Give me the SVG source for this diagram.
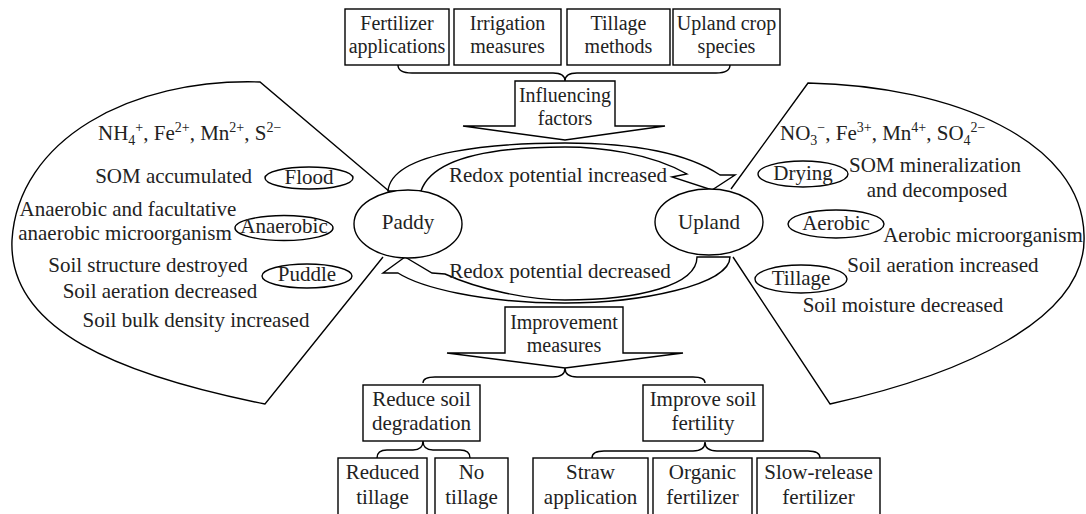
<svg xmlns="http://www.w3.org/2000/svg" width="1086" height="514" viewBox="0 0 1086 514" font-family="'Liberation Serif', 'DejaVu Serif', 'Times New Roman', serif">
<style>
text{font-family:'Liberation Serif','DejaVu Serif','Times New Roman',serif;font-size:21px;fill:#222;}
.m{text-anchor:middle;}
.b{font-size:20px;}
.s{fill:none;stroke:#000;stroke-width:1.4;stroke-linejoin:miter;}
.w{fill:#fff;stroke:#000;stroke-width:1.4;}
.sm{font-size:14px;}
</style>
<rect width="1086" height="514" fill="#fff"/>

<g id="paddy-region">
<path class="s" d="M 390 192 L 260 82 C 130 78, 18 140, 12 240 C 8 330, 120 375, 265 404 L 383 257"/>
<text x="98" y="140">NH<tspan class="sm" dy="5">4</tspan><tspan class="sm" dy="-13">+</tspan><tspan dy="8">, Fe</tspan><tspan class="sm" dy="-8">2+</tspan><tspan dy="8">, Mn</tspan><tspan class="sm" dy="-8">2+</tspan><tspan dy="8">, S</tspan><tspan class="sm" dy="-8">2−</tspan></text>
<text x="252" y="183" text-anchor="end">SOM accumulated</text>
<text x="128" y="216" class="m">Anaerobic and facultative</text>
<text x="125" y="240" class="m">anaerobic microorganism</text>
<text x="148" y="272" class="m">Soil structure destroyed</text>
<text x="160" y="298" class="m">Soil aeration decreased</text>
<text x="196" y="327" class="m">Soil bulk density increased</text>
</g>
<g id="flood"><ellipse class="w" cx="309" cy="178" rx="44" ry="11"/><text x="309" y="184" class="m">Flood</text></g>
<g id="anaerobic"><ellipse class="w" cx="284" cy="228" rx="49" ry="12.5"/><text x="284" y="233" class="m">Anaerobic</text></g>
<g id="puddle"><ellipse class="w" cx="307" cy="276" rx="45" ry="12"/><text x="307" y="281" class="m">Puddle</text></g>

<g id="upland-region">
<path class="s" d="M 731 189 L 808 83 C 955 86, 1082 142, 1084 235 C 1088 320, 960 375, 830 404 L 733 257"/>
<text x="780" y="140">NO<tspan class="sm" dy="5">3</tspan><tspan class="sm" dy="-13">−</tspan><tspan dy="8">, Fe</tspan><tspan class="sm" dy="-8">3+</tspan><tspan dy="8">, Mn</tspan><tspan class="sm" dy="-8">4+</tspan><tspan dy="8">, SO</tspan><tspan class="sm" dy="5">4</tspan><tspan class="sm" dy="-13">2−</tspan></text>
<text x="935" y="172" class="m">SOM mineralization</text>
<text x="937" y="197" class="m">and decomposed</text>
<text x="983" y="242" class="m">Aerobic microorganism</text>
<text x="943" y="272" class="m">Soil aeration increased</text>
<text x="903" y="312" class="m">Soil moisture decreased</text>
</g>
<g id="drying"><ellipse class="w" cx="803" cy="174" rx="45" ry="13"/><text x="803" y="180" class="m">Drying</text></g>
<g id="aerobic"><ellipse class="w" cx="836" cy="224" rx="48" ry="14"/><text x="836" y="230" class="m">Aerobic</text></g>
<g id="tillage"><ellipse class="w" cx="801" cy="279" rx="46" ry="14"/><text x="801" y="285" class="m">Tillage</text></g>

<g id="top-factors">
<rect class="w" x="345" y="9" width="104" height="56"/>
<text x="397" y="30" class="m b">Fertilizer</text><text x="397" y="53" class="m b">applications</text>
<rect class="w" x="454" y="9" width="107" height="56"/>
<text x="507.5" y="30" class="m b">Irrigation</text><text x="507.5" y="53" class="m b">measures</text>
<rect class="w" x="567" y="9" width="103" height="56"/>
<text x="618.5" y="30" class="m b">Tillage</text><text x="618.5" y="53" class="m b">methods</text>
<rect class="w" x="673" y="9" width="107" height="56"/>
<text x="726.5" y="30" class="m b">Upland crop</text><text x="726.5" y="53" class="m b">species</text>
</g>

<g id="influencing-factors">
<path class="w" d="M 515 81 L 615 81 L 615 126 L 665 126 L 565 140 L 463 126 L 515 126 Z"/>
<text x="565" y="102" class="m b">Influencing</text>
<text x="565" y="125" class="m b">factors</text>
</g>

<g id="connectors">
<path class="s" d="M 398 65 Q 398 73, 412 73 L 553 73 Q 565 73, 565 81 Q 565 73, 577 73 L 716 73 Q 730 73, 730 65"/>
<path class="s" d="M 423 383 Q 423 377, 435 377 L 553 377 Q 565 377, 565 368 Q 565 377, 577 377 L 693 377 Q 705 377, 705 383"/>
<path class="s" d="M 377 458 Q 377 450, 387 450 L 413 450 Q 423 450, 423 441 Q 423 450, 433 450 L 460 450 Q 470 450, 470 458"/>
<path class="s" d="M 592 458 Q 592 451, 604 451 L 693 451 Q 705 451, 705 442 Q 705 451, 717 451 L 808 451 Q 820 451, 820 458"/>
</g>

<g id="redox-increased">
<path class="w" d="M 388 191 C 392 150, 500 143, 565 143 C 640 143, 690 155, 720 175 L 735 175 L 712 190 L 672 177 L 687 174 C 650 153, 600 147, 565 147 C 470 147, 430 165, 421 191 Z"/>
<text x="558" y="182" class="m">Redox potential increased</text>
</g>
<g id="redox-decreased">
<path class="w" d="M 697 257 L 730 257 C 730 285, 640 303, 565 303 C 480 303, 420 287, 398 273 L 383 273 L 405 257 L 432 273 L 445 274 C 480 290, 530 300, 565 300 C 640 300, 697 285, 697 257 Z"/>
<text x="560" y="278" class="m">Redox potential decreased</text>
</g>

<g id="paddy"><ellipse class="w" cx="408" cy="224" rx="54" ry="34"/><text x="408" y="229" class="m">Paddy</text></g>
<g id="upland"><ellipse class="w" cx="709" cy="222" rx="54" ry="33"/><text x="709" y="229" class="m">Upland</text></g>

<g id="improvement-measures">
<path class="w" d="M 505 307 L 623 307 L 623 353 L 683 353 L 565 368 L 447 353 L 505 353 Z"/>
<text x="564" y="329" class="m b">Improvement</text>
<text x="564" y="352" class="m b">measures</text>
</g>

<g id="reduce-degradation">
<rect class="w" x="363" y="385" width="117" height="56"/>
<text x="421.5" y="406" class="m">Reduce soil</text><text x="421.5" y="430" class="m">degradation</text>
</g>
<g id="improve-fertility">
<rect class="w" x="643" y="385" width="120" height="56"/>
<text x="703" y="406" class="m">Improve soil</text><text x="703" y="430" class="m">fertility</text>
</g>
<g id="reduced-tillage"><rect class="w" x="338" y="458" width="89" height="70"/><text x="382.5" y="479" class="m">Reduced</text><text x="382.5" y="504" class="m">tillage</text></g>
<g id="no-tillage"><rect class="w" x="435" y="458" width="73" height="70"/><text x="471.5" y="479" class="m">No</text><text x="471.5" y="504" class="m">tillage</text></g>
<g id="straw"><rect class="w" x="533" y="458" width="115" height="70"/><text x="590.5" y="479" class="m">Straw</text><text x="590.5" y="504" class="m">application</text></g>
<g id="organic"><rect class="w" x="653" y="458" width="99" height="70"/><text x="702.5" y="479" class="m">Organic</text><text x="702.5" y="504" class="m">fertilizer</text></g>
<g id="slow-release"><rect class="w" x="757" y="458" width="123" height="70"/><text x="818.5" y="479" class="m">Slow-release</text><text x="818.5" y="504" class="m">fertilizer</text></g>
</svg>
